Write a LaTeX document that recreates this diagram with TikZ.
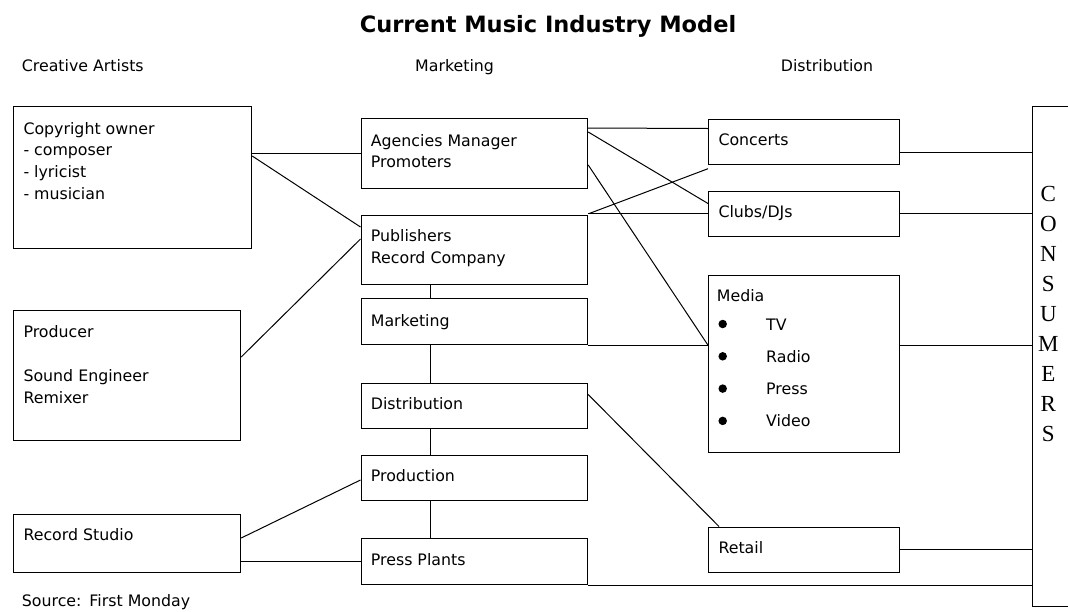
\documentclass[tikz,border=0pt]{standalone}
\usepackage{fontspec}
\setmainfont{DejaVu Sans}
\newfontfamily\letterfont{Liberation Serif}
\usetikzlibrary{calc}
\begin{document}
\begin{tikzpicture}[x=1pt,y=-1pt,
  box/.style={draw, line width=1.2pt, rectangle, inner sep=0pt, anchor=north west},
  link/.style={line width=1pt},
  txt/.style={inner sep=0pt, anchor=base west, font=\fontsize{15.8}{19}\selectfont},
  ttl/.style={inner sep=0pt, anchor=base, font=\fontsize{22.5}{27}\selectfont\bfseries},
  bigletter/.style={inner sep=0pt, anchor=base, font=\letterfont\fontsize{23}{27}\selectfont},
  dot/.style={circle, fill, inner sep=0pt, minimum size=8.5pt}]
\useasboundingbox (0,0) rectangle (1068,611);
\clip (0,0) rectangle (1068,611);

% title and column headings
\node[ttl] (title) at (548,32) {Current Music Industry Model};
\node[txt] (hdA) at (21.7,71.7) {Creative Artists};
\node[txt] (hdM) at (415,71.7) {Marketing};
\node[txt] (hdD) at (780.7,71.7) {Distribution};

% creative artists
\node[box, minimum width=238.5pt, minimum height=142pt] (cpy) at (12.5,106) {};
\node[box, minimum width=227.5pt, minimum height=130pt] (prod) at (12.5,310) {};
\node[box, minimum width=227.5pt, minimum height=58pt] (rst) at (12.5,514) {};

% marketing column
\node[box, minimum width=226.5pt, minimum height=70pt] (agm) at (360.5,118) {};
\node[box, minimum width=226.5pt, minimum height=69pt] (pub) at (360.5,215) {};
\node[box, minimum width=226.5pt, minimum height=46pt] (mkt) at (360.5,298) {};
\node[box, minimum width=226.5pt, minimum height=45.5pt] (dst) at (360.5,382.5) {};
\node[box, minimum width=226.5pt, minimum height=45pt] (pdn) at (360.5,455) {};
\node[box, minimum width=226.5pt, minimum height=46pt] (prs) at (360.5,538) {};

% distribution column
\node[box, minimum width=190.5pt, minimum height=45.5pt] (con) at (708,118.5) {};
\node[box, minimum width=190.5pt, minimum height=45.5pt] (clb) at (708,190.5) {};
\node[box, minimum width=190.5pt, minimum height=177.5pt] (med) at (708,274.5) {};
\node[box, minimum width=190.5pt, minimum height=45.5pt] (ret) at (708,526.5) {};

% consumers
\node[box, minimum width=60pt, minimum height=500pt] (csm) at (1031.5,106) {};

% box texts
\foreach \t [count=\i] in {Copyright owner,- composer,- lyricist,- musician}
  \node[txt] (cpyt\i) at ($(cpy.north west)+(10.8,{28+21.7*(\i-1)})$) {\t};
\node[txt] (prodt1) at ($(prod.north west)+(10.8,27)$) {Producer};
\node[txt] (prodt2) at ($(prod.north west)+(10.8,71.7)$) {Sound Engineer};
\node[txt] (prodt3) at ($(prod.north west)+(10.8,93.3)$) {Remixer};
\node[txt] (rstt) at ($(rst.north west)+(10.8,26.7)$) {Record Studio};

\node[txt] (agmt1) at ($(agm.north west)+(10.2,28)$) {Agencies Manager};
\node[txt] (agmt2) at ($(agm.north west)+(10.2,49.3)$) {Promoters};
\node[txt] (pubt1) at ($(pub.north west)+(10.2,26.7)$) {Publishers};
\node[txt] (pubt2) at ($(pub.north west)+(10.2,48.3)$) {Record Company};
\node[txt] (mktt) at ($(mkt.north west)+(10.2,28)$) {Marketing};
\node[txt] (dstt) at ($(dst.north west)+(10.2,26.8)$) {Distribution};
\node[txt] (pdnt) at ($(pdn.north west)+(10.2,26)$) {Production};
\node[txt] (prst) at ($(prs.north west)+(10.2,27)$) {Press Plants};

\node[txt] (cont) at ($(con.north west)+(10.3,26.5)$) {Concerts};
\node[txt] (clbt) at ($(clb.north west)+(10.3,26.8)$) {Clubs/DJs};
\node[txt] (medt) at ($(med.north west)+(8.7,27.2)$) {Media};
\foreach \t [count=\i] in {TV,Radio,Press,Video} {
  \node[dot] (bul\i) at ($(med.north west)+(14.7,{49.5+32.3*(\i-1)})$) {};
  \node[txt] (medl\i) at ($(med.north west)+(58,{55.5+32.3*(\i-1)})$) {\t};
}
\node[txt] (rett) at ($(ret.north west)+(10.3,26.8)$) {Retail};

\foreach \l [count=\i] in {C,O,N,S,U,M,E,R,S}
  \node[bigletter] (csml\i) at ($(csm.north west)+(16.8,{95.3+30*(\i-1)})$) {\l};

\node[txt] (src) at (21.7,606) {Source:\hspace{8pt}First Monday};

% connectors from the artists
\draw[link] (cpy.east |- agm.west) -- (agm.west);
\draw[link] ($(cpy.north east)+(0,50)$) -- ($(pub.north west)+(0,12)$);
\draw[link] ($(prod.north east)+(0,47)$) -- ($(pub.north west)+(0,24)$);
\draw[link] ($(rst.north east)+(0,24)$) -- ($(pdn.north west)+(0,25)$);
\draw[link] (prs.west -| rst.east) -- (prs.west);

% chain down the marketing column
\draw[link] ($(pub.south west)+(70,0)$) -- ($(mkt.north west)+(70,0)$);
\draw[link] ($(mkt.south west)+(70,0)$) -- ($(dst.north west)+(70,0)$);
\draw[link] ($(dst.south west)+(70,0)$) -- ($(pdn.north west)+(70,0)$);
\draw[link] ($(pdn.south west)+(70,0)$) -- ($(prs.north west)+(70,0)$);

% marketing to distribution
\draw[link] ($(agm.north east)+(0,10)$) -- ($(con.north west)+(0,10)$);
\draw[link] ($(agm.north east)+(0,14)$) -- ($(clb.north west)+(0,13)$);
\draw[link] ($(agm.north east)+(0,47)$) -- (mkt.south -| med.west);
\draw[link] ($(pub.north east)+(1,-1.5)$) -- ($(con.south west)+(0,3.5)$);
\draw[link] (clb.west -| pub.east) -- (clb.west);
\draw[link] (mkt.south east) -- (mkt.south -| med.west);
\draw[link] ($(dst.north east)+(0,12)$) -- ($(ret.north west)+(11,0)$);

% everything reaches the consumers
\draw[link] ($(con.north east)+(0,33.5)$) -- ($(csm.north west)+(0,46)$);
\draw[link] (clb.east) -- (clb.east -| csm.west);
\draw[link] (med.east |- mkt.south) -- (mkt.south -| csm.west);
\draw[link] (ret.east) -- (ret.east -| csm.west);
\draw[link] (prs.south east) -- (prs.south -| csm.west);
\end{tikzpicture}
\end{document}
